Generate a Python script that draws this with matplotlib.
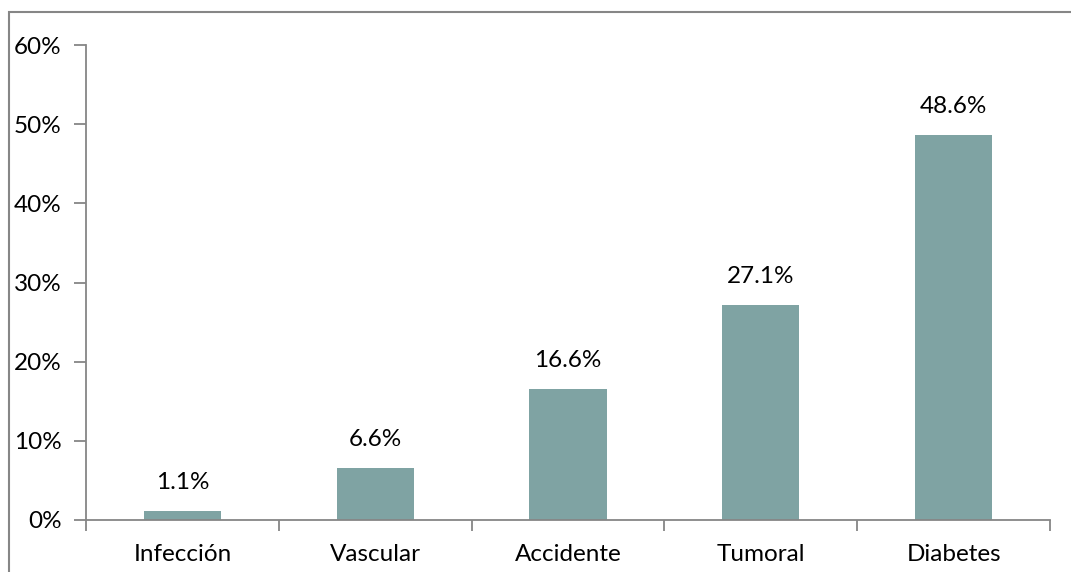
import matplotlib
matplotlib.use("Agg")
import matplotlib.pyplot as plt
from matplotlib.patches import Rectangle
import numpy as np

categories = ["Infección", "Vascular", "Accidente", "Tumoral", "Diabetes"]
values = [1.1, 6.6, 16.6, 27.1, 48.6]
yticks = [0, 10, 20, 30, 40, 50, 60]

W, H = 1071, 572
fig = plt.figure(figsize=(W / 100, H / 100), dpi=100)
plt.rcParams["font.family"] = ["Lato", "DejaVu Sans"]
FS = 17.5

# outer chart frame
fig.patches.append(Rectangle((8.5 / W, -0.1), 1.2, 1 - 11.5 / H + 0.1,
                             transform=fig.transFigure, fill=False,
                             edgecolor="#868686", linewidth=1.5))

left, right, top, bottom = 86, 1050, 45, 520
ax = fig.add_axes([left / W, 1 - bottom / H, (right - left) / W, (bottom - top) / H])

bar_color = "#7FA3A3"
x = np.arange(len(categories))
ax.bar(x, values, width=0.4, color=bar_color)
for xi, v in zip(x, values):
    ax.annotate(f"{v:.1f}%", (xi, v), xytext=(0, 20.5), textcoords="offset points",
                ha="center", va="center", fontsize=FS, color="#000000")

ax.set_xlim(-0.5, len(categories) - 0.5)
ax.set_ylim(0, 60)
ax.set_yticks(yticks)
ax.set_yticklabels([f"{t}%" for t in yticks])
ax.set_xticks(x)
ax.set_xticklabels(categories)
ax.set_xticks(np.arange(-0.5, len(categories)), minor=True)

for s in ["top", "right"]:
    ax.spines[s].set_visible(False)
for s in ["left", "bottom"]:
    ax.spines[s].set_color("#868686")
    ax.spines[s].set_linewidth(1.3)

ax.tick_params(axis="y", direction="out", length=9, width=1.3, color="#868686",
               pad=8.5, labelsize=FS)
ax.tick_params(axis="x", which="major", length=0, pad=17, labelsize=FS)
ax.tick_params(axis="x", which="minor", direction="out", length=8, width=1.3,
               color="#868686")

fig.savefig("out.png", dpi=100)
